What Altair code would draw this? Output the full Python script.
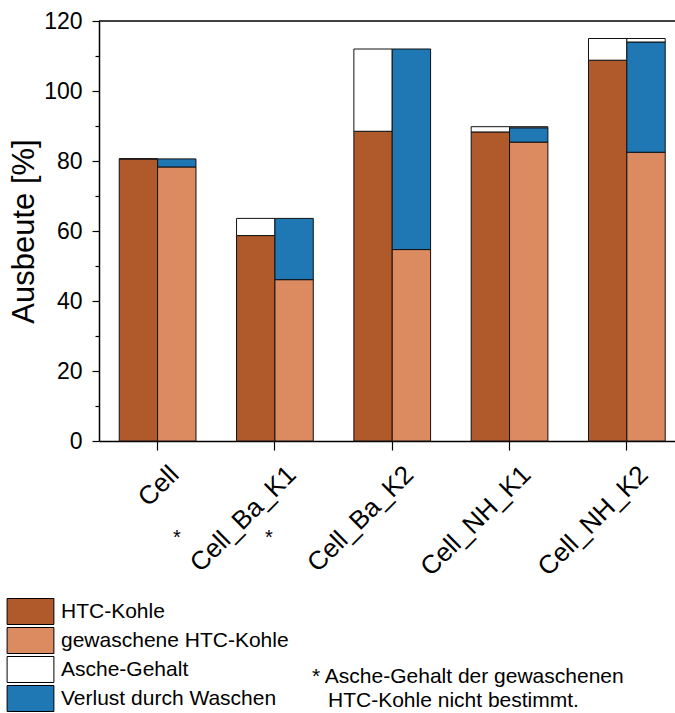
import altair as alt
import pandas as pd

# Yield per sample, in %
categories = ["Cell", "Cell_Ba_K1", "Cell_Ba_K2", "Cell_NH_K1", "Cell_NH_K2"]
htc_kohle = [80.6, 58.7, 88.5, 88.3, 108.8]          # HTC-Kohle (ohne Asche)
htc_mit_asche = [80.6, 63.6, 112.0, 89.8, 115.0]     # HTC-Kohle inkl. Asche-Gehalt
gewaschen = [78.3, 46.1, 54.7, 85.4, 82.5]           # gewaschene HTC-Kohle
vor_waschen = [80.6, 63.6, 112.0, 89.5, 114.0]       # Obergrenze Verlust durch Waschen

series = ["HTC-Kohle", "gewaschene HTC-Kohle", "Asche-Gehalt", "Verlust durch Waschen"]
colors = ["#B05A2B", "#DC8B61", "#FFFFFF", "#1F77B4"]
y_ticks = list(range(0, 121, 10))

rows = []
for i, c in enumerate(categories):
    rows.append(dict(cat=c, side="a", serie="HTC-Kohle", lo=0.0, hi=htc_kohle[i]))
    rows.append(dict(cat=c, side="a", serie="Asche-Gehalt", lo=htc_kohle[i], hi=htc_mit_asche[i]))
    rows.append(dict(cat=c, side="b", serie="gewaschene HTC-Kohle", lo=0.0, hi=gewaschen[i]))
    rows.append(dict(cat=c, side="b", serie="Verlust durch Waschen", lo=gewaschen[i], hi=vor_waschen[i]))
    if htc_mit_asche[i] > vor_waschen[i]:
        rows.append(dict(cat=c, side="b", serie="Asche-Gehalt", lo=vor_waschen[i], hi=htc_mit_asche[i]))
df = pd.DataFrame(rows)

W, H = 576, 420
FONT = "Liberation Sans"

bars = alt.Chart(df).mark_bar(stroke="#111111", strokeWidth=1, opacity=1).encode(
    x=alt.X(
        "cat:N",
        sort=categories,
        title=None,
        scale=alt.Scale(paddingInner=0.346, paddingOuter=0.128, align=0.674),
        axis=alt.Axis(
            labelAngle=-45,
            labelAlign="right",
            labelBaseline="middle",
            labelFontSize=26,
            labelColor="black",
            labelOffset=17,
            labelPadding=20,
            tickSize=9,
            tickColor="black",
            tickWidth=1.2,
            domainColor="black",
            domainWidth=1.5,
            grid=False,
        ),
    ),
    xOffset=alt.XOffset("side:N", scale=alt.Scale(paddingInner=0, paddingOuter=0)),
    y=alt.Y(
        "lo:Q",
        title="Ausbeute [%]",
        scale=alt.Scale(domain=[0, 120], nice=False),
        axis=alt.Axis(
            values=y_ticks,
            labelExpr="datum.value % 20 === 0 ? datum.label : ''",
            tickSize={"condition": {"test": "datum.value % 20 === 0", "value": 7}, "value": 4},
            tickColor="black",
            tickWidth=1.2,
            labelFontSize=23,
            labelColor="black",
            labelPadding=10,
            domainColor="black",
            domainWidth=1.5,
            grid=False,
            titleFontSize=31,
            titleFontWeight="normal",
            titleColor="black",
            titlePadding=3,
        ),
    ),
    y2="hi:Q",
    color=alt.Color(
        "serie:N",
        scale=alt.Scale(domain=series, range=colors),
        legend=alt.Legend(
            orient="none",
            legendX=-82,
            legendY=577,
            title=None,
            padding=0,
            symbolType="M-1.8,-1L1.8,-1L1.8,1L-1.8,1Z",
            symbolSize=676,
            symbolStrokeColor="black",
            symbolStrokeWidth=1,
            symbolOpacity=1,
            labelFontSize=21,
            labelColor="black",
            labelOffset=17,
            labelLimit=0,
            rowPadding=-2.5,
        ),
    ),
)

one = pd.DataFrame({"k": [0]})

top_frame = alt.Chart(one).mark_rule(color="black", strokeWidth=1.5).encode(
    x=alt.value(0), x2=alt.value(W), y=alt.value(0)
)

star_1 = alt.Chart(one).mark_text(text="*", fontSize=20, color="black", align="center").encode(
    x=alt.value(78), y=alt.value(517)
)
star_2 = alt.Chart(one).mark_text(text="*", fontSize=20, color="black", align="center").encode(
    x=alt.value(170), y=alt.value(517)
)
note_1 = alt.Chart(one).mark_text(
    text="* Asche-Gehalt der gewaschenen", fontSize=21, color="black", align="left", baseline="alphabetic"
).encode(x=alt.value(213), y=alt.value(662))
note_2 = alt.Chart(one).mark_text(
    text="HTC-Kohle nicht bestimmt.", fontSize=21, color="black", align="left", baseline="alphabetic"
).encode(x=alt.value(229), y=alt.value(686))

chart = (
    alt.layer(bars, top_frame, star_1, star_2, note_1, note_2)
    .properties(
        width=W,
        height=H,
        autosize=alt.AutoSizeParams(type="none"),
        padding={"left": 99, "top": 21, "right": 0, "bottom": 272},
        background="white",
    )
    .configure(font=FONT)
    .configure_view(stroke=None)
)

chart.save("out.html", embed_options={"renderer": "svg", "actions": False})
